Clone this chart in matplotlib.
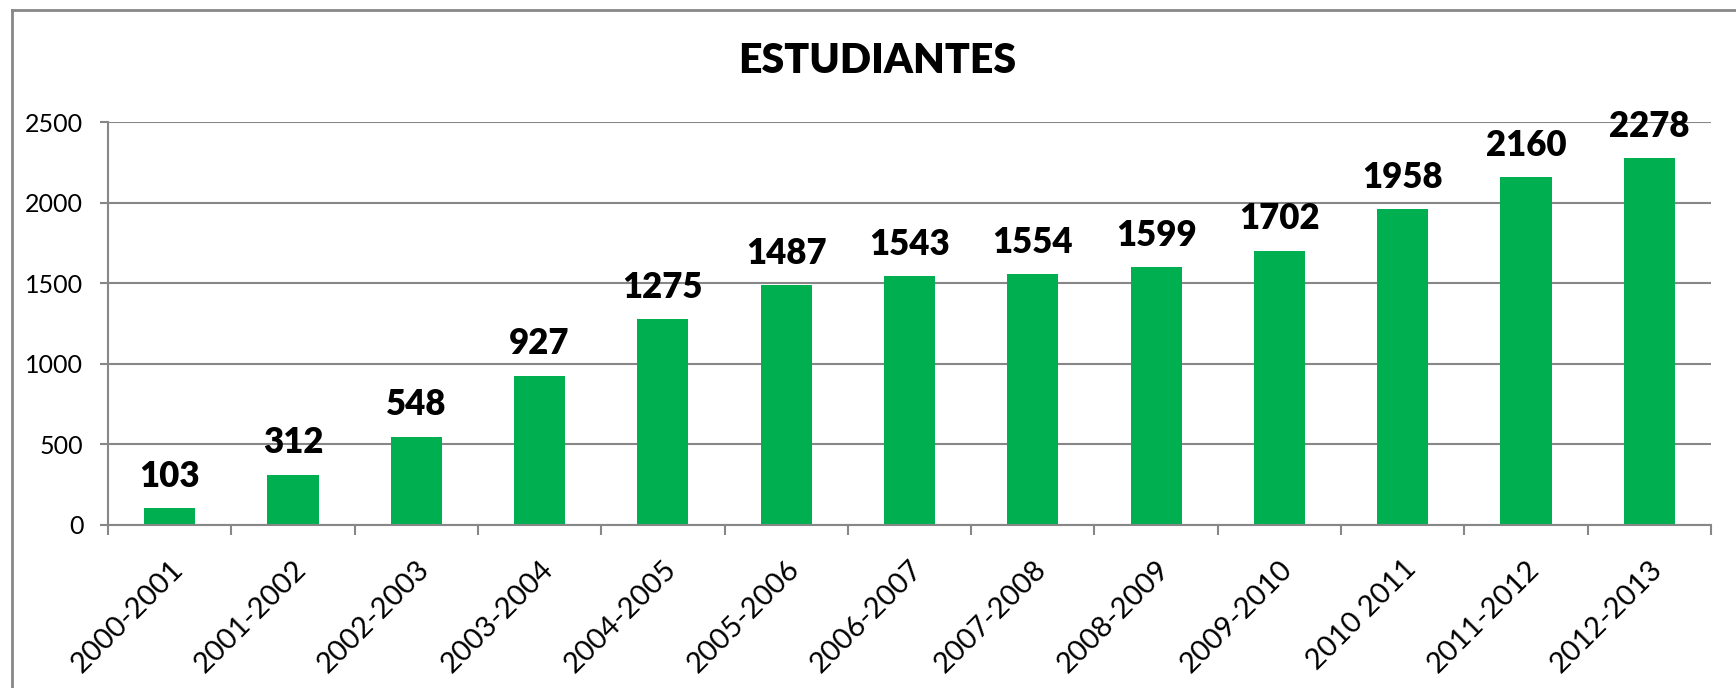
import numpy as np
from matplotlib import pyplot as plt
from matplotlib.lines import Line2D

plt.rcParams['font.family'] = ['Lato', 'DejaVu Sans']

years = ['2000-2001', '2001-2002', '2002-2003', '2003-2004', '2004-2005',
         '2005-2006', '2006-2007', '2007-2008', '2008-2009', '2009-2010',
         '2010 2011', '2011-2012', '2012-2013']
students = [103, 312, 548, 927, 1275, 1487, 1543, 1554, 1599, 1702, 1958, 2160, 2278]
y_ticks = [0, 500, 1000, 1500, 2000, 2500]

GREEN = '#00B050'
GRAY = '#878787'

fig = plt.figure(figsize=(17.36, 6.88), dpi=100)
ax = fig.add_axes([108 / 1736, 1 - 525 / 688, (1711 - 108) / 1736, (525 - 122) / 688])

x = np.arange(len(years))
ax.bar(x, students, width=0.415, color=GREEN, zorder=2)

for xi, v in zip(x, students):
    ax.annotate(str(v), (xi, v), xytext=(0, 11), textcoords='offset points',
                ha='center', va='bottom', fontsize=25, fontweight='heavy', zorder=3)

ax.set_xlim(-0.5, len(years) - 0.5)
ax.set_ylim(0, 2500)
ax.set_yticks(y_ticks)
ax.set_yticklabels([str(t) for t in y_ticks], fontsize=18)
ax.yaxis.grid(True, color=GRAY, linewidth=1.5, zorder=0)
ax.set_axisbelow(True)

ax.set_xticks(x)
ax.set_xticklabels(years, fontsize=21, rotation=45, ha='right', rotation_mode='anchor')
ax.tick_params(axis='x', which='major', length=0, pad=22)
ax.set_xticks(np.arange(len(years) + 1) - 0.5, minor=True)
ax.tick_params(axis='x', which='minor', length=7.2, width=1.5, color=GRAY)
ax.tick_params(axis='y', length=5.8, width=1.5, color=GRAY, pad=12)

for s in ['top', 'right']:
    ax.spines[s].set_visible(False)
for s in ['left', 'bottom']:
    ax.spines[s].set_color(GRAY)
    ax.spines[s].set_linewidth(1.5)

fig.text(877 / 1736, 1 - 61 / 688, 'ESTUDIANTES', ha='center', va='center',
         fontsize=29.5, fontweight='heavy')

# outer chart border (only left and top edges fall inside the picture)
fig.add_artist(Line2D([12 / 1736, 12 / 1736], [0, 1 - 10 / 688], color=GRAY, linewidth=2,
                      transform=fig.transFigure))
fig.add_artist(Line2D([12 / 1736, 1], [1 - 10 / 688, 1 - 10 / 688], color=GRAY, linewidth=2,
                      transform=fig.transFigure))

plt.savefig('out.png')
